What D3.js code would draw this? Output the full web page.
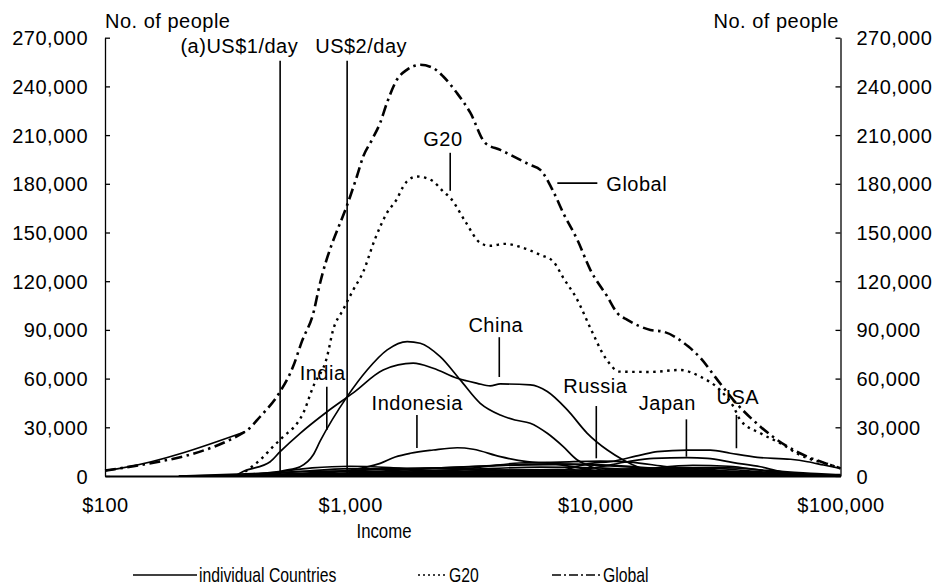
<!DOCTYPE html>
<html><head><meta charset="utf-8">
<script src="https://cdn.jsdelivr.net/npm/d3@7"></script>
<style>
body{margin:0;background:#fff;}
svg text{font-family:"Liberation Sans",Arial,sans-serif;fill:#000;}
.t{font-size:20px;letter-spacing:0.5px;}
.n{font-size:21px;}
</style></head><body>
<svg id="c" width="939" height="586"></svg>
<script>
// ---------- data ----------
const xTicks = [100, 1000, 10000, 100000];
const yTicks = [0, 30000, 60000, 90000, 120000, 150000, 180000, 210000, 240000, 270000];

const globalSeries = [[100,3300],[115,4700],[373,27300],[429,36500],[518,52000],[585,67400],[635,82800],[713,102300],[740,113600],[1000,172200],[1065,184500],[1130,196800],[1227,207100],[1326,217600],[1413,229900],[1551,244100],[1703,250200],[1931,253300],[2182,251300],[2397,246100],[2726,235900],[3090,223800],[3557,205100],[4095,200900],[5428,191600],[5965,188600],[6741,175200],[7405,161900],[8444,145500],[9541,127000],[11194,110500],[12296,100300],[13510,96200],[16770,90000],[18950,88900],[23970,79700],[26830,72700],[31470,59200],[36590,46800],[47160,30400],[60780,18100],[73350,11900],[91030,6800],[100000,4700]];

const g20Series = [[373,2700],[429,9900],[485,18100],[533,24200],[608,32500],[643,38600],[706,55000],[805,73500],[852,90000],[935,102300],[1029,114600],[1130,125700],[1259,145500],[1413,162100],[1551,170600],[1645,178300],[1703,181400],[1866,184500],[2047,183500],[2187,181400],[2397,175200],[2559,171400],[2953,156600],[3393,143600],[3715,141800],[4277,143000],[4920,141200],[5965,136200],[6741,132100],[7405,122000],[8444,108500],[9541,91200],[11000,72700],[12590,64300],[16770,64100],[22130,65300],[26830,61200],[32230,53000],[36590,42700],[39020,34500],[47160,26300],[56790,20200],[68440,12900],[91030,6800],[100000,4900]];

const india = [[470,0],[518,2700],[625,5700],[706,12900],[755,21600],[972,48900],[1173,65300],[1416,77700],[1709,82800],[1931,81800],[2329,73500],[2812,59200],[3393,44800],[4095,37600],[4700,34500],[5428,32500],[6368,26300],[7400,18100],[8444,9900],[8935,7800],[10480,3700],[12590,1200],[16770,0]];
const china = [[340,0],[366,2700],[472,8800],[518,15000],[625,26300],[805,39600],[1029,51200],[1363,65300],[1807,69500],[2182,66400],[2734,60200],[3299,57100],[3727,55500],[4095,56700],[5428,56100],[6368,52000],[7686,40700],[9270,26300],[11194,16000],[13000,9900],[15270,4900],[18420,1200],[22130,0]];
const indonesia = [[570,300],[828,2500],[1000,3700],[1326,7800],[1527,11700],[1758,14000],[2182,16000],[2734,17400],[3177,16500],[4095,11900],[5272,8800],[6536,7800],[8700,4900],[11500,1800],[15270,600],[20000,0]];
const russia = [[1457,300],[2559,3100],[3715,6200],[4920,8000],[7180,8600],[10480,9200],[13790,8600],[18420,6200],[26830,2500],[39020,300],[50000,0]];
const japan = [[5500,0],[7180,1800],[8730,3700],[10480,5700],[13510,8800],[17250,10900],[23740,11300],[28640,10900],[36590,8200],[47160,5700],[56890,2700],[77620,600],[100000,0]];
const usa = [[5000,0],[7190,3100],[9541,7800],[11460,8800],[15270,12900],[17910,15000],[23740,16000],[29470,16000],[35560,14000],[45810,11500],[62520,10300],[73350,8800],[85230,6800],[100000,4700]];
const lowIncome = [[100,3300],[115,4700],[373,27300]];
const brazil = [[400,0],[1000,2000],[2000,4500],[4000,6500],[7000,7500],[12000,6000],[25000,2500],[50000,500],[80000,0]];
const mexico = [[700,0],[1500,2000],[3000,4000],[6000,5500],[10000,5000],[20000,2500],[40000,600],[70000,0]];
const bangladesh = [[350,0],[500,2500],[700,5000],[1000,6000],[1500,5000],[2500,2500],[4000,500],[6000,0]];
const germany = [[3000,0],[8000,1500],[15000,4000],[25000,6500],[35000,6000],[50000,3000],[80000,800],[100000,300]];
const uk = [[3000,0],[8000,1500],[15000,3500],[25000,5000],[35000,5000],[50000,3500],[80000,1500],[100000,800]];
const france = [[4000,0],[10000,1500],[18000,4000],[28000,5000],[40000,3500],[60000,1200],[100000,300]];
const italy = [[3000,0],[8000,2000],[15000,4500],[22000,5000],[32000,3500],[50000,1200],[80000,200]];
const korea = [[2000,0],[5000,1500],[10000,3500],[18000,4500],[28000,3000],[45000,900],[70000,100]];
const canada = [[5000,0],[12000,800],[22000,1800],[35000,2200],[50000,1800],[80000,700],[100000,400]];
const turkey = [[800,0],[2000,1500],[4000,3500],[7000,4000],[12000,2800],[25000,800],[40000,0]];
const southAfrica = [[200,0],[500,800],[1500,1500],[4000,1800],[10000,1500],[25000,800],[60000,0]];
const argentina = [[1000,0],[3000,1200],[7000,2500],[12000,2500],[25000,1000],[50000,0]];
const saudi = [[3000,0],[10000,800],[20000,1500],[40000,1200],[80000,300]];
const otherMid = [[300,0],[600,1500],[1200,4000],[2500,5200],[5000,6800],[9000,7200],[15000,5500],[30000,2000],[60000,300]];
const spain = [[4000,0],[10000,1500],[18000,3500],[26000,3800],[40000,2000],[60000,400],[80000,0]];
const australia = [[6000,0],[15000,1200],[25000,2500],[38000,2800],[55000,1800],[80000,600],[100000,200]];
const poland = [[2000,0],[5000,1500],[9000,3000],[14000,2800],[22000,1200],[35000,200],[45000,0]];
const netherlands = [[8000,0],[18000,1200],[28000,2500],[40000,2200],[60000,800],[90000,100]];
const iran = [[600,0],[1500,1200],[3000,3000],[5000,3500],[8000,2500],[15000,800],[30000,0]];
const thailand = [[500,0],[1000,1500],[2000,3500],[3500,4000],[6000,2500],[12000,800],[25000,0]];
const philippines = [[400,0],[800,2000],[1500,4500],[2500,4800],[4000,3000],[8000,800],[15000,0]];
const vietnam = [[350,0],[600,2500],[1000,4500],[1600,4000],[3000,1500],[6000,200],[9000,0]];
const nigeria = [[200,0],[400,1500],[800,3000],[1500,2500],[3000,1000],[8000,200],[15000,0]];
const colombia = [[1000,0],[2500,1500],[5000,2500],[9000,2200],[18000,900],[35000,100],[50000,0]];
const taiwan = [[5000,0],[10000,1500],[18000,3000],[28000,2800],[45000,1000],[70000,100]];
const sweden = [[10000,0],[20000,1500],[32000,2200],[45000,1600],[70000,400],[100000,100]];
const singapore = [[8000,0],[15000,800],[25000,1500],[40000,1800],[60000,1000],[100000,300]];
const austria = [[5000,0],[12000,2000],[20000,3500],[30000,3200],[45000,1500],[70000,300]];
const switzerland = [[7000,0],[14000,1800],[24000,3000],[36000,2600],[55000,1000],[90000,100]];
const malaysia = [[1500,0],[4000,1200],[8000,2500],[14000,2200],[25000,800],[45000,0]];
const ukraine = [[1000,0],[2500,2000],[5000,3500],[8000,3000],[14000,900],[25000,0]];
const peru = [[700,0],[2000,1200],[4500,2200],[8000,1800],[15000,500],[30000,0]];
const gulf = [[2000,0],[6000,1500],[12000,2600],[22000,2400],[40000,900],[70000,0]];

const individualSeries = [lowIncome, india, china, indonesia, russia, japan, usa, brazil, mexico, bangladesh, germany, uk, france, italy, korea, canada, turkey, southAfrica, argentina, saudi, otherMid, spain, australia, poland, netherlands, iran, thailand, philippines, vietnam, nigeria, colombia, taiwan, sweden, singapore, austria, switzerland, malaysia, ukraine, peru, gulf];

const povertyLines = [
  {text:"(a)US$1/day", income:518, top:255800, labelIncome:614, labelValue:260700, anchor:"end"},
  {text:"US$2/day", income:972, top:255800, labelIncome:720, labelValue:260700, anchor:"start"}
];
const countryLabels = [
  {text:"G20", income:2559, top:199100, bottom:175700, labelIncome:2390, labelValue:203000},
  {text:"China", income:4057, top:85500, bottom:61000, labelIncome:3926, labelValue:88900},
  {text:"India", income:803, top:55000, bottom:28400, labelIncome:772, labelValue:59200},
  {text:"Indonesia", income:1872, top:37600, bottom:17300, labelIncome:1877, labelValue:40700},
  {text:"Russia", income:10090, top:43100, bottom:10900, labelIncome:10000, labelValue:51000},
  {text:"Japan", income:23520, top:34900, bottom:11900, labelIncome:19670, labelValue:40400},
  {text:"USA", income:37630, top:37600, bottom:17100, labelIncome:38100, labelValue:44400}
];
const globalLabel = {text:"Global", from:6998, to:10190, value:180400, labelIncome:11090, labelValue:175500};
const legendItems = ["individual Countries", "G20", "Global"];

// ---------- drawing ----------
const svg = d3.select("#c");
const x = d3.scaleLog().domain([100, 100000]).range([105, 840.5]);
const y = d3.scaleLinear().domain([0, 270000]).range([476, 37.7]);

const line = d3.line().x(d => x(d[0])).y(d => y(d[1])).curve(d3.curveMonotoneX);

// individual countries
svg.append("g").selectAll("path").data(individualSeries).join("path")
  .attr("d", line).attr("fill","none").attr("stroke","#000").attr("stroke-width",1.7);

// G20 dotted
svg.append("path").attr("d", line(g20Series)).attr("fill","none").attr("stroke","#000")
  .attr("stroke-width",2.4).attr("stroke-dasharray","2.5,4.5");
// Global dash-dot
svg.append("path").attr("d", line(globalSeries)).attr("fill","none").attr("stroke","#000")
  .attr("stroke-width",2.6).attr("stroke-dasharray","11,4.5,2.5,4.5");

// poverty lines
const pl = svg.append("g");
pl.selectAll("line").data(povertyLines).join("line")
  .attr("x1", d=>x(d.income)).attr("x2", d=>x(d.income))
  .attr("y1", d=>y(d.top)).attr("y2", y(0))
  .attr("stroke","#000").attr("stroke-width",1.6);
pl.selectAll("text").data(povertyLines).join("text").attr("class","t")
  .attr("x", d=>x(d.labelIncome)).attr("y", d=>y(d.labelValue))
  .attr("text-anchor", d=>d.anchor).text(d=>d.text);

// country labels with leaders
const cl = svg.append("g");
cl.selectAll("line").data(countryLabels).join("line")
  .attr("x1", d=>x(d.income)).attr("x2", d=>x(d.income))
  .attr("y1", d=>y(d.top)).attr("y2", d=>y(d.bottom))
  .attr("stroke","#000").attr("stroke-width",1.6);
cl.selectAll("text").data(countryLabels).join("text").attr("class","t")
  .attr("x", d=>x(d.labelIncome)).attr("y", d=>y(d.labelValue))
  .attr("text-anchor","middle").text(d=>d.text);

svg.append("line").attr("x1", x(globalLabel.from)).attr("x2", x(globalLabel.to))
  .attr("y1", y(globalLabel.value)).attr("y2", y(globalLabel.value))
  .attr("stroke","#000").attr("stroke-width",1.6);
svg.append("text").attr("class","t").attr("x", x(globalLabel.labelIncome)).attr("y", y(globalLabel.labelValue))
  .text(globalLabel.text);

// axes
const fmt = d3.format(",");
const yl = svg.append("g").attr("transform",`translate(${x(100)},0)`)
  .call(d3.axisLeft(y).tickValues(yTicks).tickFormat(fmt).tickSizeInner(-5).tickSizeOuter(0).tickPadding(17));
const yr = svg.append("g").attr("transform",`translate(${x(100000)},0)`)
  .call(d3.axisRight(y).tickValues(yTicks).tickFormat(fmt).tickSizeInner(-5).tickSizeOuter(0).tickPadding(16));
[yl, yr].forEach(g => {
  g.selectAll("text").attr("class","t").attr("font-size",null).attr("font-family",null).attr("dy","0.35em");
  g.selectAll("line,path").attr("stroke","#000").attr("stroke-width",1.3);
});
const xa = svg.append("g").attr("transform",`translate(0,${y(0)})`)
  .call(d3.axisBottom(x).tickValues(xTicks).tickFormat(d => "$" + fmt(d)).tickSize(0).tickPadding(22));
xa.selectAll("text").attr("class","t").attr("font-size",null).attr("font-family",null);
xa.select(".domain").attr("stroke","#000").attr("stroke-width",2.2);

// axis titles
svg.append("text").attr("class","t").attr("x",105).attr("y",28).text("No. of people");
svg.append("text").attr("class","t").attr("x",839).attr("y",28).attr("text-anchor","end").text("No. of people");
svg.append("text").attr("class","n").attr("transform","translate(384,538) scale(0.8,1)")
  .attr("text-anchor","middle").text("Income");

// legend
const lg = svg.append("g");
lg.append("line").attr("x1",133).attr("x2",197).attr("y1",575).attr("y2",575)
  .attr("stroke","#000").attr("stroke-width",1.6);
lg.append("text").attr("class","n").attr("transform","translate(199,582) scale(0.75,1)").text(legendItems[0]);
lg.append("line").attr("x1",418).attr("x2",447).attr("y1",575).attr("y2",575)
  .attr("stroke","#000").attr("stroke-width",1.6).attr("stroke-dasharray","2,3");
lg.append("text").attr("class","n").attr("transform","translate(449,582) scale(0.75,1)").text(legendItems[1]);
lg.append("line").attr("x1",552).attr("x2",602).attr("y1",575).attr("y2",575)
  .attr("stroke","#000").attr("stroke-width",1.6).attr("stroke-dasharray","9,3,2,3");
lg.append("text").attr("class","n").attr("transform","translate(603,582) scale(0.75,1)").text(legendItems[2]);
</script></body></html>
